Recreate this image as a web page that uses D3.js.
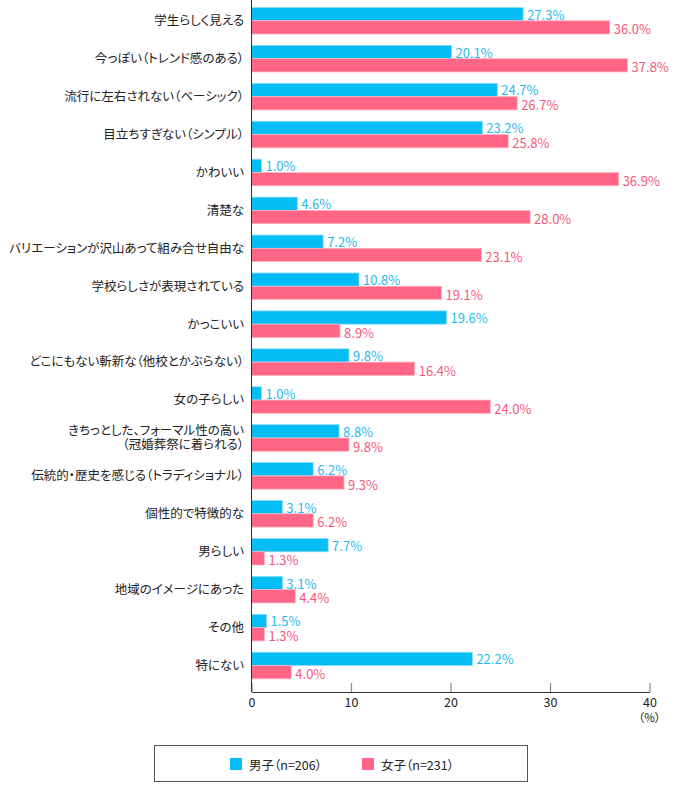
<!DOCTYPE html>
<html>
<head>
<meta charset="utf-8">
<script src="https://cdn.jsdelivr.net/npm/d3@7"></script>
<style>
  body { margin: 0; background: #fff; }
  svg { display: block; font-family: "Noto Sans CJK JP", "Noto Sans", sans-serif; font-feature-settings: "palt"; }
</style>
</head>
<body>
<svg id="chart"></svg>
<script>
const WIDTH = 680
const HEIGHT = 785

// data
const categories = [
  "学生らしく見える",
  "今っぽい（トレンド感のある）",
  "流行に左右されない（ベーシック）",
  "目立ちすぎない（シンプル）",
  "かわいい",
  "清楚な",
  "バリエーションが沢山あって組み合せ自由な",
  "学校らしさが表現されている",
  "かっこいい",
  "どこにもない斬新な（他校とかぶらない）",
  "女の子らしい",
  "きちっとした、フォーマル性の高い\n（冠婚葬祭に着られる）",
  "伝統的・歴史を感じる（トラディショナル）",
  "個性的で特徴的な",
  "男らしい",
  "地域のイメージにあった",
  "その他",
  "特にない"
]
const boys = [27.3, 20.1, 24.7, 23.2, 1.0, 4.6, 7.2, 10.8, 19.6, 9.8, 1.0, 8.8, 6.2, 3.1, 7.7, 3.1, 1.5, 22.2]
const girls = [36.0, 37.8, 26.7, 25.8, 36.9, 28.0, 23.1, 19.1, 8.9, 16.4, 24.0, 9.8, 9.3, 6.2, 1.3, 4.4, 1.3, 4.0]
const seriesNames = ["男子（n=206）", "女子（n=231）"]
const xTicks = [0, 10, 20, 30, 40]

const COLORS = ["#03bdf4", "#ff6584"]
const EDGES = ["#8adcf7", "#ffb3c3"]
const TEXT_COLORS = ["#1fbbef", "#f7577b"]

const AXIS_X = 251.5
const AXIS_Y = 692

const svg = d3.select("#chart")
  .attr("width", WIDTH)
  .attr("height", HEIGHT)

let xScale = d3.scaleLinear()
  .domain([0, 40])
  .range([AXIS_X, 649.5])

let yScale = d3.scaleBand()
  .domain(categories)
  .range([1.8, 684.5])
  .paddingInner(0.3)
  .paddingOuter(0.15)

let subScale = d3.scaleBand()
  .domain([0, 1])
  .range([0, yScale.bandwidth()])

let rows = categories.map((c, i) => ({ cat: c, values: [boys[i], girls[i]] }))

// bars
let groups = svg.append("g")
  .selectAll("g")
  .data(rows)
  .enter()
  .append("g")
  .attr("transform", d => `translate(0,${yScale(d.cat)})`)

groups.selectAll("rect")
  .data(d => d.values.map((v, s) => ({ v: v, s: s })))
  .enter()
  .append("rect")
  .attr("x", xScale(0))
  .attr("y", d => subScale(d.s))
  .attr("width", d => xScale(d.v) - xScale(0))
  .attr("height", subScale.bandwidth())
  .attr("fill", d => COLORS[d.s])
  .attr("stroke", d => EDGES[d.s])
  .attr("stroke-width", 0.8)

groups.selectAll("text.val")
  .data(d => d.values.map((v, s) => ({ v: v, s: s })))
  .enter()
  .append("text")
  .attr("class", "val")
  .attr("x", d => xScale(d.v) + 4)
  .attr("y", d => subScale(d.s) + subScale.bandwidth() / 2 + (d.s == 0 ? 0 : 1.5))
  .attr("dominant-baseline", "central")
  .attr("font-size", 13)
  .attr("fill", d => TEXT_COLORS[d.s])
  .text(d => d.v.toFixed(1) + "%")

// category labels
let labels = svg.append("g")
  .selectAll("text")
  .data(categories)
  .enter()
  .append("text")
  .attr("x", 244)
  .attr("y", d => yScale(d) + yScale.bandwidth() / 2)
  .attr("text-anchor", "end")
  .attr("font-size", 12.5)
  .attr("fill", "#222")

labels.each(function(d) {
  let lines = d.split("\n")
  let t = d3.select(this)
  lines.forEach((line, k) => {
    t.append("tspan")
      .attr("x", 244)
      .attr("dy", k == 0 ? (lines.length == 1 ? "0.35em" : "-0.25em") : "1.15em")
      .text(line)
  })
})

// x axis, ticks pointing up
let xAxis = d3.axisBottom(xScale)
  .tickValues(xTicks)
  .tickSizeInner(-9)
  .tickSizeOuter(0)
  .tickPadding(6)

let xAxisGroup = svg.append("g")
  .attr("transform", `translate(0,${AXIS_Y})`)
  .call(xAxis)

xAxisGroup.select(".domain").attr("stroke", "#333")
xAxisGroup.selectAll(".tick line").attr("stroke", "#888").attr("stroke-width", 1.2)
xAxisGroup.selectAll(".tick text")
  .attr("font-size", 12.5)
  .attr("fill", "#222")
  .attr("font-family", "\"Noto Sans CJK JP\", sans-serif")

svg.append("text")
  .attr("x", xScale(40))
  .attr("y", 722)
  .attr("text-anchor", "middle")
  .attr("font-size", 11.5)
  .attr("fill", "#222")
  .text("（%）")

// vertical axis line
svg.append("line")
  .attr("x1", AXIS_X).attr("x2", AXIS_X)
  .attr("y1", 0).attr("y2", AXIS_Y)
  .attr("stroke", "#333")

// legend
svg.append("rect")
  .attr("x", 154.5).attr("y", 745.5)
  .attr("width", 373).attr("height", 36)
  .attr("fill", "none")
  .attr("stroke", "#555")

let legendX = [230, 362]
let legend = svg.append("g")
  .selectAll("g")
  .data(seriesNames)
  .enter()
  .append("g")
  .attr("transform", (d, i) => `translate(${legendX[i]},758)`)

legend.append("rect")
  .attr("width", 12).attr("height", 12)
  .attr("fill", (d, i) => COLORS[i])

legend.append("text")
  .attr("x", 19)
  .attr("y", 6)
  .attr("dominant-baseline", "central")
  .attr("font-size", 12.5)
  .attr("fill", "#222")
  .text(d => d)
</script>
</body>
</html>
